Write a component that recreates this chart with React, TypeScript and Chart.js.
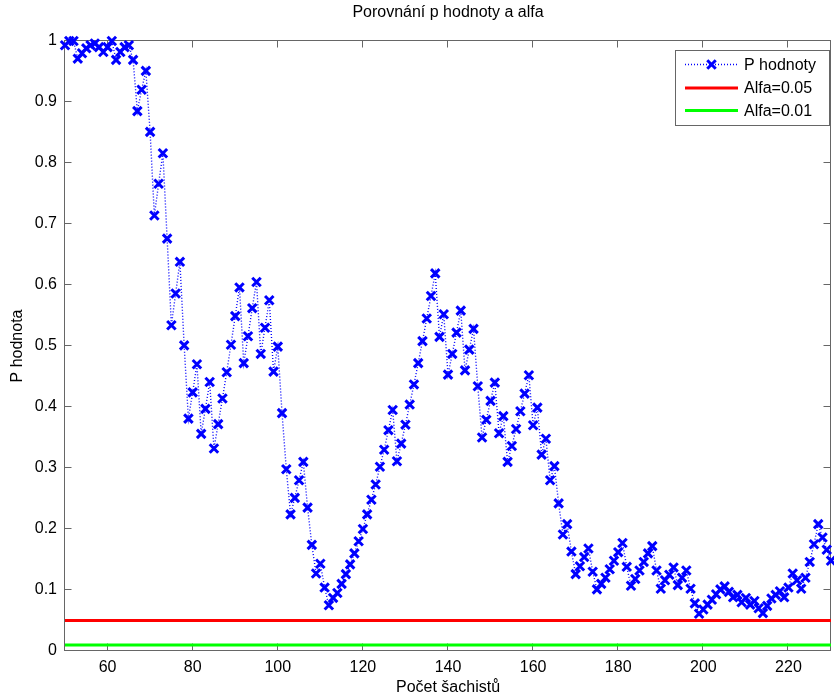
import React, { useEffect, useRef } from 'react';
import { Chart, registerables } from 'chart.js';

Chart.register(...registerables);

// ---- data ----
const xFirst = 50;
const xLast = 230;
const pValues = [
  0.993, 1.0, 1.0, 0.971, 0.98, 0.988, 0.993, 0.996, 0.99, 0.982,
  0.99, 1.0, 0.969, 0.982, 0.99, 0.993, 0.969, 0.885, 0.92, 0.951,
  0.851, 0.714, 0.766, 0.816, 0.676, 0.534, 0.586, 0.638, 0.501, 0.381,
  0.424, 0.47, 0.356, 0.397, 0.441, 0.332, 0.372, 0.414, 0.457, 0.502,
  0.549, 0.596, 0.472, 0.516, 0.562, 0.605, 0.487, 0.53, 0.575, 0.458,
  0.499, 0.39, 0.298, 0.224, 0.251, 0.28, 0.31, 0.235, 0.174, 0.127,
  0.143, 0.104, 0.075, 0.087, 0.095, 0.11, 0.126, 0.142, 0.16, 0.18,
  0.2, 0.224, 0.248, 0.273, 0.302, 0.33, 0.362, 0.395, 0.311, 0.34,
  0.371, 0.404, 0.437, 0.472, 0.508, 0.545, 0.582, 0.619, 0.515, 0.552,
  0.453, 0.487, 0.522, 0.558, 0.46, 0.494, 0.528, 0.434, 0.35, 0.379,
  0.41, 0.44, 0.357, 0.385, 0.31, 0.336, 0.364, 0.393, 0.422, 0.452,
  0.37, 0.399, 0.322, 0.348, 0.28, 0.303, 0.242, 0.191, 0.208, 0.163,
  0.126, 0.139, 0.154, 0.168, 0.13, 0.101, 0.11, 0.12, 0.134, 0.148,
  0.162, 0.177, 0.138, 0.107, 0.118, 0.132, 0.146, 0.16, 0.172, 0.132,
  0.102, 0.116, 0.125, 0.137, 0.108, 0.12, 0.132, 0.102, 0.078, 0.061,
  0.068, 0.076, 0.084, 0.093, 0.101, 0.106, 0.097, 0.088, 0.092, 0.08,
  0.087, 0.076, 0.082, 0.07, 0.062, 0.074, 0.086, 0.092, 0.098, 0.088,
  0.104, 0.127, 0.116, 0.102, 0.12, 0.146, 0.175, 0.208, 0.186, 0.166,
  0.148,
];
const playerCounts = pValues.map((_, i) => xFirst + i);
const alpha05 = 0.05;
const alpha01 = 0.01;
const xTickValues = [60, 80, 100, 120, 140, 160, 180, 200, 220];
const yTickValues = [0, 0.1, 0.2, 0.3, 0.4, 0.5, 0.6, 0.7, 0.8, 0.9, 1];
const titleText = 'Porovnání p hodnoty a alfa';
const xLabelText = 'Počet šachistů';
const yLabelText = 'P hodnota';
const legendLabels = ['P hodnoty', 'Alfa=0.05', 'Alfa=0.01'];

const FONT_FAMILY = '"Liberation Sans", Arial, Helvetica, sans-serif';
const FONT_SIZE = 16;
const AXIS_COLOR = '#666666';
const BLUE = '#0000ff';
const RED = '#ff0000';
const GREEN = '#00ff00';

function drawCross(ctx: CanvasRenderingContext2D, x: number, y: number, r: number) {
  const o = Math.cos(Math.PI / 4) * r;
  ctx.beginPath();
  ctx.moveTo(x - o, y - o);
  ctx.lineTo(x + o, y + o);
  ctx.moveTo(x - o, y + o);
  ctx.lineTo(x + o, y - o);
  ctx.stroke();
}

const matlabPlugin = {
  id: 'matlabAxes',
  beforeDatasetsDraw(chart: any) {
    const { ctx, chartArea } = chart;
    const { left, right, top, bottom } = chartArea;
    const xs = chart.scales.x;
    const ys = chart.scales.y;
    ctx.save();
    ctx.strokeStyle = AXIS_COLOR;
    ctx.lineWidth = 1;
    const L = Math.round(left) - 0.5;
    const R = Math.round(right) - 0.5;
    const T = Math.round(top) - 0.5;
    const B = Math.round(bottom) - 0.5;
    ctx.strokeRect(L, T, R - L, B - T);
    const tl = 7;
    ctx.beginPath();
    xTickValues.forEach((v) => {
      const px = Math.round(xs.getPixelForValue(v)) - 0.5;
      ctx.moveTo(px, B);
      ctx.lineTo(px, B - tl);
      ctx.moveTo(px, T);
      ctx.lineTo(px, T + tl);
    });
    yTickValues.forEach((v) => {
      const py = Math.round(ys.getPixelForValue(v)) - 0.5;
      ctx.moveTo(L, py);
      ctx.lineTo(L + tl, py);
      ctx.moveTo(R, py);
      ctx.lineTo(R - tl, py);
    });
    ctx.stroke();
    ctx.restore();
  },
  afterDraw(chart: any) {
    const { ctx, chartArea } = chart;
    const cx = (chartArea.left + chartArea.right) / 2;
    const cy = (chartArea.top + chartArea.bottom) / 2;
    ctx.save();
    ctx.fillStyle = '#000';
    ctx.font = `${FONT_SIZE}px ${FONT_FAMILY}`;
    ctx.textAlign = 'center';
    ctx.textBaseline = 'middle';
    ctx.fillText(titleText, cx, 13);
    ctx.fillText(xLabelText, cx, 688);
    ctx.save();
    ctx.translate(18, cy);
    ctx.rotate(-Math.PI / 2);
    ctx.fillText(yLabelText, 0, 0);
    ctx.restore();

    // legend
    const bx = 675.5, by = 50.5, bw = 154, bh = 75;
    ctx.fillStyle = '#fff';
    ctx.fillRect(bx, by, bw, bh);
    ctx.strokeStyle = AXIS_COLOR;
    ctx.lineWidth = 1;
    ctx.strokeRect(bx, by, bw, bh);
    const rows = [64.5, 88, 110.5];
    const sx0 = 685, sx1 = 738;
    ctx.strokeStyle = BLUE;
    ctx.lineWidth = 1.5;
    ctx.setLineDash([1, 2]);
    ctx.beginPath();
    ctx.moveTo(sx0, rows[0]);
    ctx.lineTo(sx1, rows[0]);
    ctx.stroke();
    ctx.setLineDash([]);
    ctx.lineWidth = 3;
    drawCross(ctx, (sx0 + sx1) / 2, rows[0], 6);
    ctx.lineWidth = 3;
    ctx.strokeStyle = RED;
    ctx.beginPath();
    ctx.moveTo(sx0, rows[1]);
    ctx.lineTo(sx1, rows[1]);
    ctx.stroke();
    ctx.strokeStyle = GREEN;
    ctx.beginPath();
    ctx.moveTo(sx0, rows[2]);
    ctx.lineTo(sx1, rows[2]);
    ctx.stroke();
    ctx.fillStyle = '#000';
    ctx.textAlign = 'left';
    legendLabels.forEach((lab, i) => ctx.fillText(lab, 744, rows[i] + 1));
    ctx.restore();
  },
};

export default function App() {
  const canvasRef = useRef<HTMLCanvasElement | null>(null);

  useEffect(() => {
    const canvas = canvasRef.current;
    if (!canvas) return;
    const chart = new Chart(canvas, {
      type: 'line',
      data: {
        datasets: [
          {
            label: legendLabels[0],
            data: pValues.map((y, i) => ({ x: playerCounts[i], y })),
            borderColor: BLUE,
            backgroundColor: BLUE,
            borderWidth: 1.4,
            borderDash: [1, 2],
            pointStyle: 'crossRot',
            pointRadius: 6,
            pointBorderWidth: 3,
            pointBorderColor: BLUE,
            fill: false,
            tension: 0,
            clip: false as any,
            order: 2,
          },
          {
            label: legendLabels[1],
            data: [
              { x: xFirst, y: alpha05 },
              { x: xLast, y: alpha05 },
            ],
            borderColor: RED,
            borderWidth: 3,
            pointRadius: 0,
            fill: false,
            order: 1,
          },
          {
            label: legendLabels[2],
            data: [
              { x: xFirst, y: alpha01 },
              { x: xLast, y: alpha01 },
            ],
            borderColor: GREEN,
            borderWidth: 3,
            pointRadius: 0,
            fill: false,
            order: 0,
          },
        ],
      },
      options: {
        animation: false,
        responsive: false,
        maintainAspectRatio: false,
        events: [],
        layout: { autoPadding: false, padding: { top: 41, right: 3, left: 0, bottom: 0 } },
        plugins: {
          legend: { display: false },
          title: { display: false },
          tooltip: { enabled: false },
        },
        scales: {
          x: {
            type: 'linear',
            min: xFirst,
            max: xLast,
            afterBuildTicks: (s: any) => {
              s.ticks = xTickValues.map((v) => ({ value: v }));
            },
            afterFit: (s: any) => {
              s.height = 47;
              s.paddingLeft = 0;
              s.paddingRight = 0;
            },
            grid: { display: false, drawTicks: false },
            border: { display: false },
            ticks: {
              autoSkip: false,
              maxRotation: 0,
              padding: 7,
              color: '#000',
              font: { family: FONT_FAMILY, size: FONT_SIZE },
              callback: (v: any) => String(v),
            },
          },
          y: {
            type: 'linear',
            min: 0,
            max: 1,
            afterBuildTicks: (s: any) => {
              s.ticks = yTickValues.map((v) => ({ value: v }));
            },
            afterFit: (s: any) => {
              s.width = 65;
              s.paddingTop = 0;
              s.paddingBottom = 0;
            },
            grid: { display: false, drawTicks: false },
            border: { display: false },
            ticks: {
              autoSkip: false,
              padding: 8,
              color: '#000',
              font: { family: FONT_FAMILY, size: FONT_SIZE },
              callback: (v: any) => String(Math.round(Number(v) * 10) / 10),
            },
          },
        },
      },
      plugins: [matlabPlugin],
    });
    return () => chart.destroy();
  }, []);

  return (
    <div style={{ position: 'fixed', left: 0, top: 0, width: 834, height: 698, background: '#fff' }}>
      <canvas ref={canvasRef} width={834} height={698} style={{ display: 'block' }} />
    </div>
  );
}
